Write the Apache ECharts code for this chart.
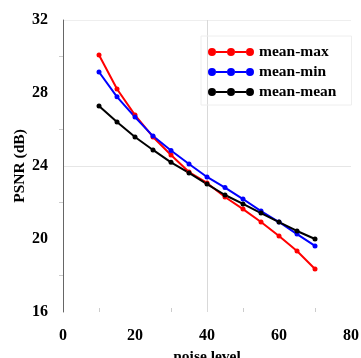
<!DOCTYPE html>
<html>
<head>
<meta charset="utf-8">
<script src="https://cdn.jsdelivr.net/npm/echarts@6/dist/echarts.min.js"></script>
<style>
  html, body { margin: 0; padding: 0; background: #fff; }
  #chart { width: 361px; height: 358px; }
</style>
</head>
<body>
<div id="chart"></div>
<script>
const noiseLevels = [10, 15, 20, 25, 30, 35, 40, 45, 50, 55, 60, 65, 70];
const meanMax  = [30.08, 28.22, 26.79, 25.59, 24.6, 23.67, 23.07, 22.3, 21.64, 20.93, 20.16, 19.34, 18.36];
const meanMin  = [29.15, 27.79, 26.68, 25.64, 24.85, 24.11, 23.4, 22.82, 22.19, 21.53, 20.93, 20.27, 19.62];
const meanMean = [27.29, 26.41, 25.59, 24.88, 24.2, 23.62, 23.01, 22.41, 21.92, 21.42, 20.93, 20.44, 20.0];

const serif = 'Liberation Serif';
// line with three dots, drawn in a 46x8 box
const legendIcon = 'path://M0,4a4,4 0 1,0 8,0a4,4 0 1,0 -8,0Z M8,3h11v2h-11Z M19,4a4,4 0 1,0 8,0a4,4 0 1,0 -8,0Z M27,3h11v2h-11Z M38,4a4,4 0 1,0 8,0a4,4 0 1,0 -8,0Z';

const pairs = arr => noiseLevels.map((x, i) => [x, arr[i]]);

const makeSeries = (name, data, color) => ({
  name, type: 'line', data: pairs(data),
  symbol: 'circle', symbolSize: 5, smooth: false,
  lineStyle: { color, width: 2 },
  itemStyle: { color, borderWidth: 0 },
  emphasis: { disabled: true },
});

const chart = echarts.init(document.getElementById('chart'), null, { renderer: 'canvas' });
chart.setOption({
  animation: false,
  backgroundColor: '#fff',
  grid: { left: 63, right: 10, top: 20, bottom: 46, outerBoundsMode: 'none' },
  legend: {
    orient: 'vertical', left: 201, top: 36,
    padding: [8, 15, 5, 7],
    itemWidth: 46, itemHeight: 8, itemGap: 4,
    icon: legendIcon,
    itemStyle: { borderWidth: 0 },
    borderColor: '#eeeeee', borderWidth: 1,
    textStyle: { fontFamily: serif, fontWeight: 'bold', fontSize: 15.5, color: '#000', lineHeight: 16 },
    data: ['mean-max', 'mean-min', 'mean-mean'],
  },
  xAxis: {
    type: 'value', min: 0, max: 80, interval: 20,
    name: 'noise level', nameLocation: 'middle', nameGap: 31,
    nameTextStyle: { fontFamily: serif, fontWeight: 'bold', fontSize: 15.5, color: '#000' },
    axisLine: { show: false },
    axisTick: { show: false, inside: true },
    minorTick: { show: true, splitNumber: 2, length: 4, lineStyle: { color: '#cccccc' } },
    axisLabel: { fontFamily: serif, fontWeight: 'bold', fontSize: 16, color: '#000', margin: 16 },
    splitLine: { show: true, lineStyle: { color: ['rgba(0,0,0,0)', 'rgba(0,0,0,0)', '#d9d9d9', 'rgba(0,0,0,0)', 'rgba(0,0,0,0)'], width: 1 } },
  },
  yAxis: {
    type: 'value', min: 16, max: 32, interval: 4,
    name: 'PSNR (dB)', nameLocation: 'middle', nameGap: 35, nameRotate: 90,
    nameMoveOverlap: false,
    nameTextStyle: { fontFamily: serif, fontWeight: 'bold', fontSize: 15.5, color: '#000' },
    axisLine: { show: true, lineStyle: { color: '#666666', width: 1 } },
    axisTick: { show: false, inside: false },
    minorTick: { show: true, splitNumber: 2, length: 4, lineStyle: { color: '#cccccc' } },
    axisLabel: { fontFamily: serif, fontWeight: 'bold', fontSize: 16, color: '#000', margin: 15 },
    splitLine: { show: true, lineStyle: { color: ['rgba(0,0,0,0)', 'rgba(0,0,0,0)', '#e6e6e6', 'rgba(0,0,0,0)', '#eeeeee'], width: 1 } },
  },
  series: [
    makeSeries('mean-max', meanMax, '#ff0000'),
    makeSeries('mean-min', meanMin, '#0000ff'),
    makeSeries('mean-mean', meanMean, '#000000'),
  ],
});
</script>
</body>
</html>
